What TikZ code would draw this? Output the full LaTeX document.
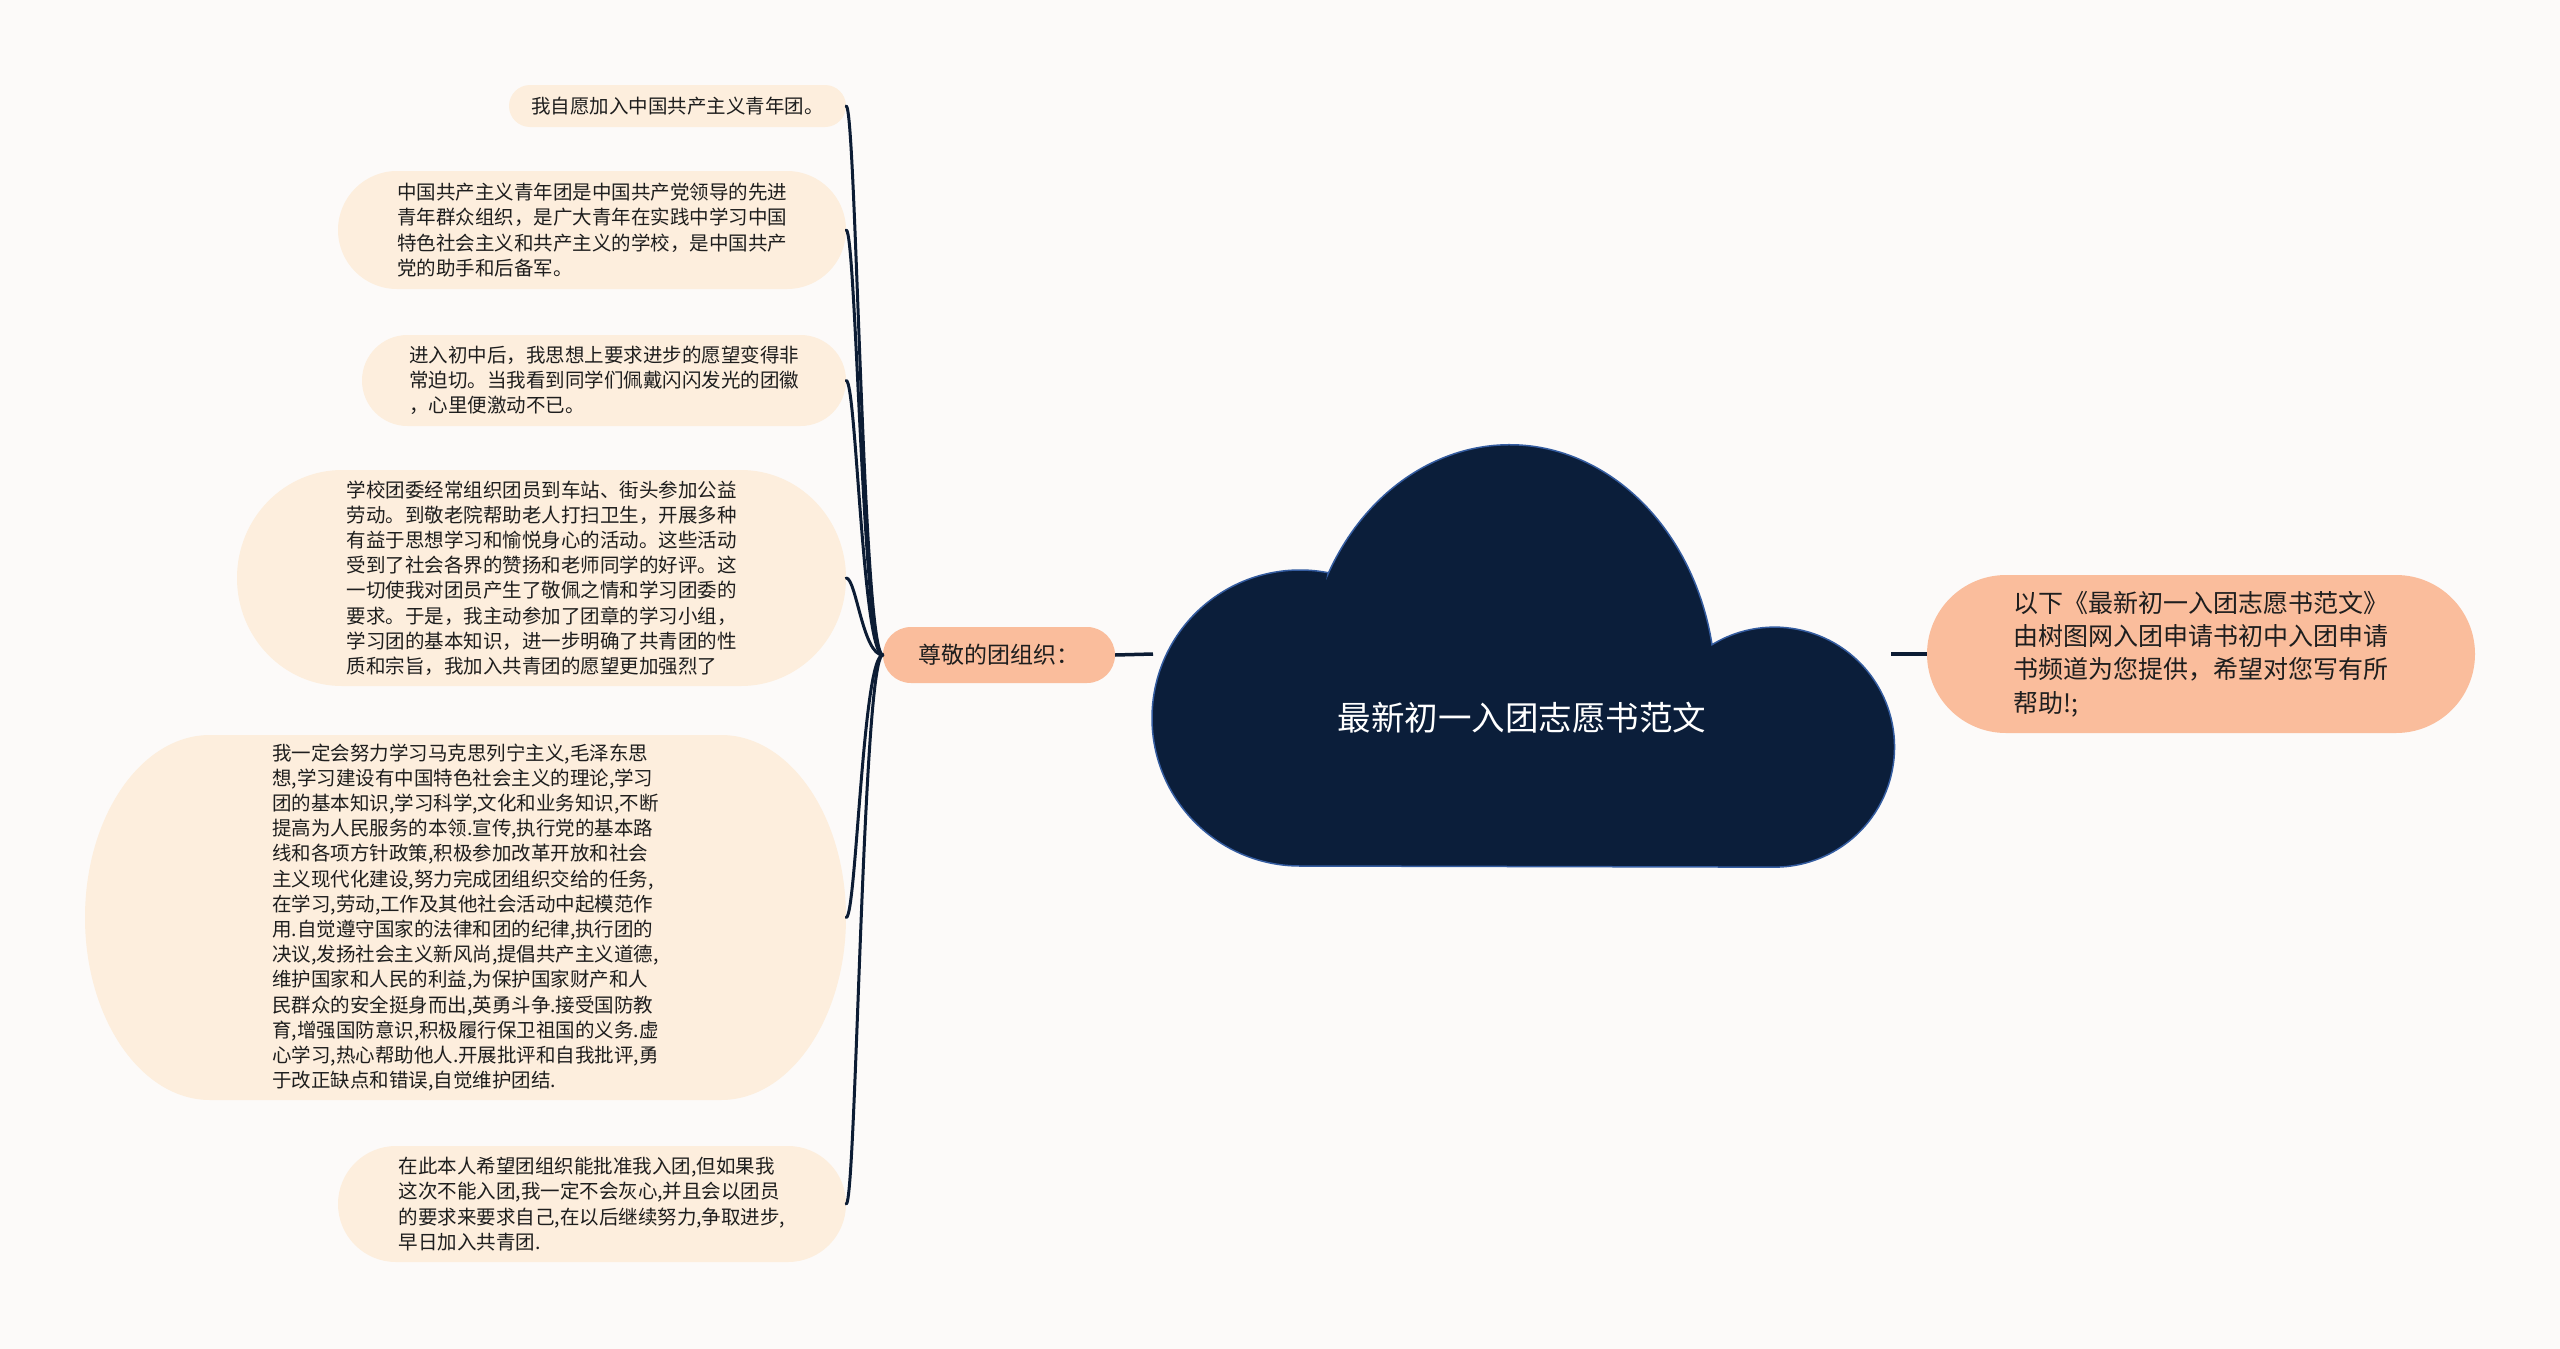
\documentclass[tikz,border=0pt]{standalone}
\usepackage{fontspec}
\newfontfamily\cjk{Noto Sans CJK SC}
\usetikzlibrary{calc}
\definecolor{bgc}{RGB}{252,250,249}
\definecolor{leaffill}{RGB}{253,238,221}
\definecolor{hubfill}{RGB}{250,189,156}
\definecolor{cloudfill}{RGB}{11,30,58}
\definecolor{cloudedge}{RGB}{52,92,160}
\definecolor{connc}{RGB}{12,28,52}
\definecolor{txtc}{RGB}{30,30,30}
\tikzset{
  leafbg/.style={fill=leaffill},
  leaftext/.style={font={\cjk\fontsize{19.5}{25.2}\selectfont},text=txtc,align=left,inner sep=0pt},
  hubbox/.style={fill=hubfill,rounded corners=28pt,font={\cjk\fontsize{23}{28}\selectfont},text=txtc,inner sep=0pt},
  rightbox/.style={fill=hubfill,rounded corners=79pt,font={\cjk\fontsize{25}{33.2}\selectfont},text=txtc,align=left,inner sep=0pt},
  titletext/.style={font={\cjk\fontsize{33.5}{40}\selectfont},text=white,inner sep=0pt},
  conn/.style={draw=connc,line width=3pt,line cap=round},
  stem/.style={draw=connc,line width=3.5pt}
}
% name, cx, cy, half width, half height, rx, text
\newcommand\leafnode[7]{%
  \fill[leafbg] ({#2-#4+#6},{#3-#5}) -- ({#2+#4-#6},{#3-#5})
    arc[start angle=90,end angle=-90,x radius=#6pt,y radius=#5pt]
    -- ({#2-#4+#6},{#3+#5})
    arc[start angle=270,end angle=90,x radius=#6pt,y radius=#5pt] -- cycle;
  \node[leaftext,minimum width={2*#4*1pt},minimum height={2*#5*1pt}] (#1) at (#2,#3) {#7};
}
\begin{document}
\begin{tikzpicture}[x=1pt,y=-1pt]
\fill[bgc] (0,0) rectangle (2560,1349);
\useasboundingbox (0,0) rectangle (2560,1349);

% leaves
\leafnode{b1}{677.5}{106}{168.5}{21}{21}{我自愿加入中国共产主义青年团。}
\leafnode{b2}{592}{230}{254}{59}{59}{中国共产主义青年团是中国共产党领导的先进\\青年群众组织，是广大青年在实践中学习中国\\特色社会主义和共产主义的学校，是中国共产\\党的助手和后备军。}
\leafnode{b3}{604}{380.5}{242}{45.5}{45.5}{进入初中后，我思想上要求进步的愿望变得非\\常迫切。当我看到同学们佩戴闪闪发光的团徽\\，心里便激动不已。}
\leafnode{b4}{541.5}{578}{304.5}{108}{105}{学校团委经常组织团员到车站、街头参加公益\\劳动。到敬老院帮助老人打扫卫生，开展多种\\有益于思想学习和愉悦身心的活动。这些活动\\受到了社会各界的赞扬和老师同学的好评。这\\一切使我对团员产生了敬佩之情和学习团委的\\要求。于是，我主动参加了团章的学习小组，\\学习团的基本知识，进一步明确了共青团的性\\质和宗旨，我加入共青团的愿望更加强烈了}
\leafnode{b5}{465.5}{917.5}{380.5}{182.5}{125}{我一定会努力学习马克思列宁主义,毛泽东思\\想,学习建设有中国特色社会主义的理论,学习\\团的基本知识,学习科学,文化和业务知识,不断\\提高为人民服务的本领.宣传,执行党的基本路\\线和各项方针政策,积极参加改革开放和社会\\主义现代化建设,努力完成团组织交给的任务,\\在学习,劳动,工作及其他社会活动中起模范作\\用.自觉遵守国家的法律和团的纪律,执行团的\\决议,发扬社会主义新风尚,提倡共产主义道德,\\维护国家和人民的利益,为保护国家财产和人\\民群众的安全挺身而出,英勇斗争.接受国防教\\育,增强国防意识,积极履行保卫祖国的义务.虚\\心学习,热心帮助他人.开展批评和自我批评,勇\\于改正缺点和错误,自觉维护团结.}
\leafnode{b6}{592}{1204}{254}{58}{58}{在此本人希望团组织能批准我入团,但如果我\\这次不能入团,我一定不会灰心,并且会以团员\\的要求来要求自己,在以后继续努力,争取进步,\\早日加入共青团.}

% hub
\node[hubbox,minimum width=232pt,minimum height=56pt] (hub) at (999,655) {尊敬的团组织：};

% cloud
\filldraw[fill=cloudfill,draw=cloudedge,line width=1.5pt]
  (1328,574) arc[start angle=151.8,end angle=10.6,x radius=206pt,y radius=245pt]
  arc[start angle=121.4,end angle=-90,radius=120pt]
  -- (1300,866) arc[start angle=270,end angle=79,radius=148pt] -- cycle;
\node[titletext] (title) at (1522,718) {最新初一入团志愿书范文};
\coordinate (cloudW) at (1153,654);
\coordinate (cloudE) at (1891,654);

% right box
\node[rightbox,minimum width=548pt,minimum height=158pt] (rb) at (2201,654) {以下《最新初一入团志愿书范文》\\由树图网入团申请书初中入团申请\\书频道为您提供，希望对您写有所\\帮助!;};

% connectors
\draw[stem] (hub.east) -- (cloudW);
\draw[stem] (cloudE) -- (rb.west);
\foreach \b in {b1,b2,b3,b4,b5,b6}{
  \draw[conn] (hub.west) .. controls +(-20,0) and +(10,0) .. (\b.east);
}
\end{tikzpicture}
\end{document}
